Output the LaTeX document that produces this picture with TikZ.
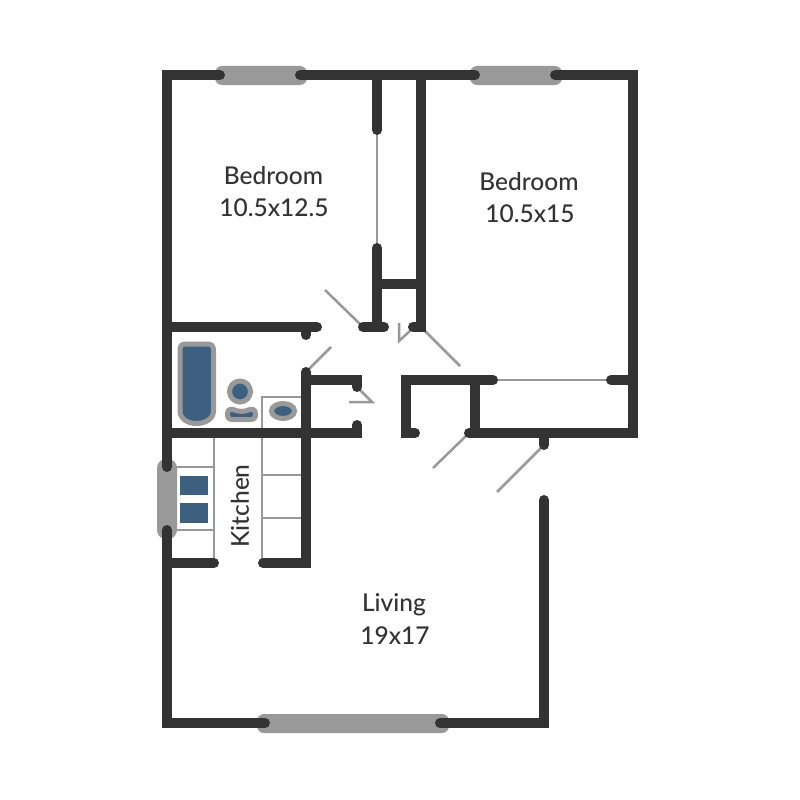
\documentclass[tikz,border=0pt]{standalone}
\usepackage{fontspec}
\setmainfont{Lato Medium}
\definecolor{wallc}{HTML}{333333}
\definecolor{greyc}{HTML}{999999}
\definecolor{bluec}{HTML}{3D5F80}
\tikzset{
  wall/.style={draw=wallc,line width=10pt,line cap=round,line join=miter},
  thin line/.style={draw=greyc,line width=2.5pt},
  window/.style={fill=greyc,rounded corners=7pt},
  fixture/.style={draw=greyc,line width=5pt,fill=bluec},
  label/.style={text=wallc,font=\fontsize{24.5}{28}\selectfont,align=center,inner sep=0pt}
}
\begin{document}
\begin{tikzpicture}[x=1pt,y=-1pt]
\useasboundingbox[fill=white] (0,0) rectangle (800,800);
% windows
\fill[window] (215,66) rectangle (307,85);
\fill[window] (470,66) rectangle (562,85);
\fill[window] (257,714) rectangle (449,733);
\fill[window,rounded corners=9pt] (157,459) rectangle (177,539);
% thin lines
\draw[thin line] (377,130) -- (377,248);
\draw[thin line] (495,380) -- (608,380);
\draw[thin line] (325,290) -- (360,324);
\draw[thin line,line join=miter] (399,323) -- (399,341) -- (411,330);
\draw[thin line] (424,330) -- (460,366);
\draw[thin line] (331,347) -- (306,372);
\draw[thin line,line join=miter] (357,387) -- (372,402) -- (349,402);
\draw[thin line] (466,436) -- (433,468);
\draw[thin line] (542,447) -- (497,492);
\draw[thin line] (214,433) -- (214,563);
\draw[thin line] (172,467) -- (214,467);
\draw[thin line] (172,530) -- (214,530);
\draw[thin line] (306,397) -- (262,397) -- (262,563);
\draw[thin line] (262,475) -- (306,475);
\draw[thin line] (262,518) -- (306,518);
% stove
\fill[bluec] (180,476) rectangle (208,495);
\fill[bluec] (180,503) rectangle (208,523);
% tub
\draw[fixture] (180,351) .. controls (180,346) and (181,344) .. (186,344) -- (207,344)
  .. controls (212,344) and (213.5,346) .. (213.5,351) -- (213.5,411)
  .. controls (213.5,419) and (205,423.5) .. (196.5,423.5)
  .. controls (188,423.5) and (180,419) .. (180,411) -- cycle;
% toilet
\draw[fixture] (240,391.5) circle (10.5);
\draw[fixture] (233,409.5) .. controls (239,412) and (244,412) .. (250,409.5)
  .. controls (254,408.5) and (255.5,411) .. (255.5,414.5)
  .. controls (255.5,418) and (254,419.5) .. (250,419.5) -- (233,419.5)
  .. controls (229,419.5) and (227.5,418) .. (227.5,414.5)
  .. controls (227.5,411) and (229,408.5) .. (233,409.5) -- cycle;
% sink
\draw[fixture] (283,411) ellipse (11.5 and 7.5);
% walls
\draw[wall] (167,467) -- (167,75) -- (220,75);
\draw[wall] (300,75) -- (475,75);
\draw[wall] (555,75) -- (633,75) -- (633,433) -- (469,433);
\draw[wall] (475,433) -- (475,380);
\draw[wall] (493,380) -- (406,380) -- (406,433) -- (415,433);
\draw[wall] (611,380) -- (633,380);
\draw[wall] (544,433) -- (544,445);
\draw[wall] (544,500) -- (544,723) -- (440,723);
\draw[wall] (265,723) -- (167,723) -- (167,530);
\draw[wall] (377,75) -- (377,130);
\draw[wall] (421,75) -- (421,327) -- (413,327);
\draw[wall] (377,248) -- (377,327);
\draw[wall] (363,327) -- (384,327);
\draw[wall] (377,284) -- (421,284);
\draw[wall] (167,327) -- (317,327);
\draw[wall] (306,327) -- (306,335);
\draw[wall] (167,433) -- (357,433) -- (357,425);
\draw[wall] (357,387) -- (357,380) -- (306,380);
\draw[wall] (306,372) -- (306,563) -- (263,563);
\draw[wall] (167,563) -- (214,563);
% labels
\node[label] (bedroomA) at (273.5,176) {Bedroom};
\node[label] (sizeA) at (274,208) {10.5x12.5};
\node[label] (bedroomB) at (529,182) {Bedroom};
\node[label] (sizeB) at (530,214) {10.5x15};
\node[label] (living) at (394,605) {Living};
\node[label] (sizeC) at (395,636) {19x17};
\node[label,rotate=90] (kitchen) at (240,506) {Kitchen};
\end{tikzpicture}
\end{document}
